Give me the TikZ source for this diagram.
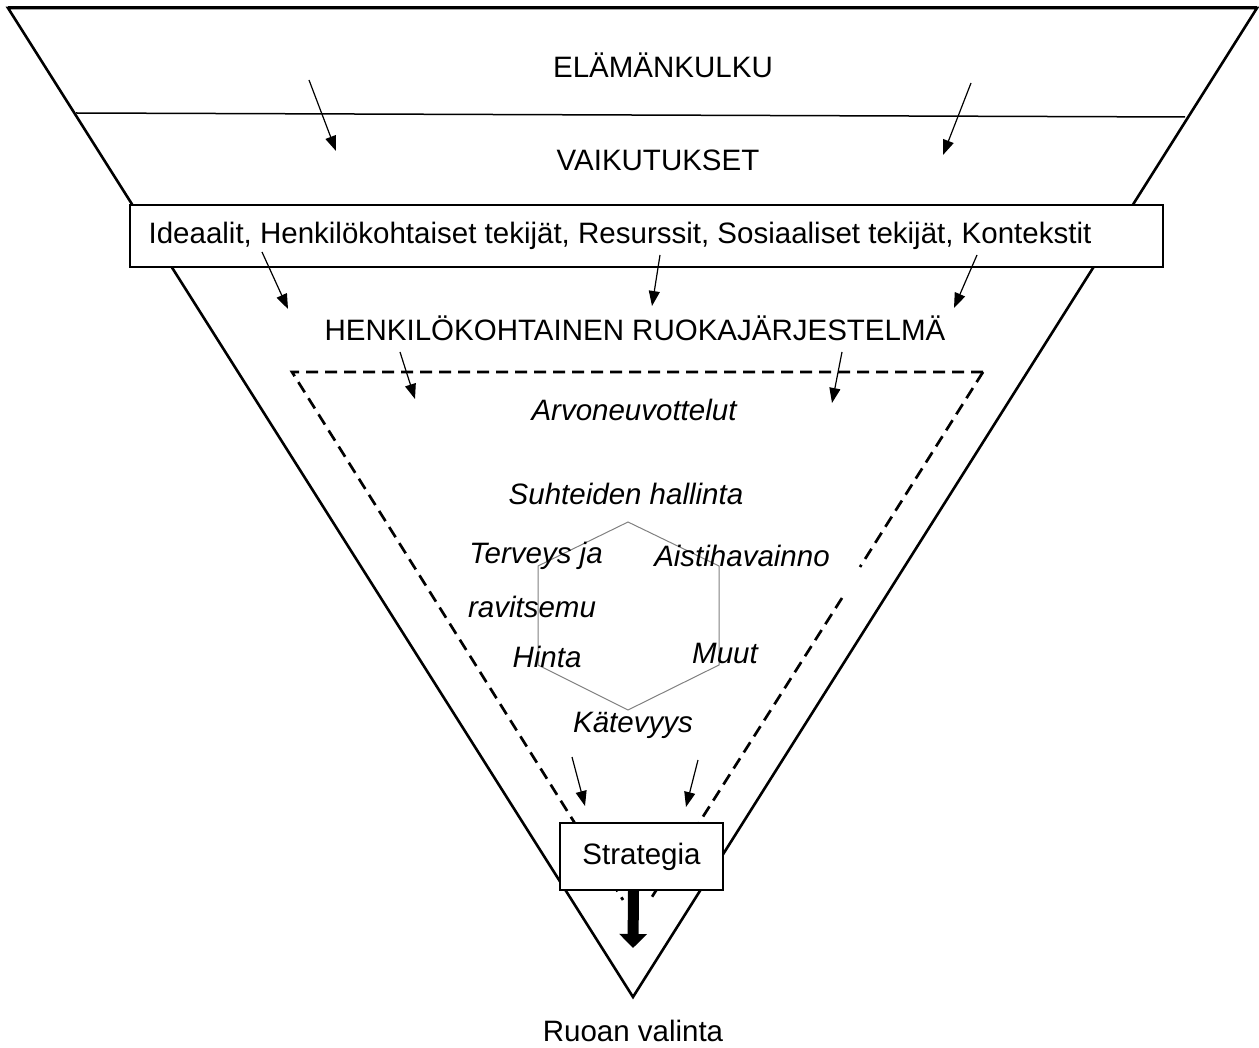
\documentclass[tikz,border=0pt]{standalone}
\usepackage{fontspec}
\setmainfont{Liberation Sans}
\usetikzlibrary{arrows.meta}
\begin{document}
\begin{tikzpicture}[x=1pt,y=-1pt,
  every node/.style={inner sep=0pt,font=\fontsize{29.5}{35}\selectfont},
  lbl/.style={anchor=center},
  itl/.style={anchor=center,font=\fontsize{29.5}{35}\selectfont\itshape},
  outer/.style={line width=2.6pt},
  thinarrow/.style={line width=1.2pt,-{Triangle[length=15pt,width=11pt]}},
  dsh/.style={line width=2.7pt,dash pattern=on 12pt off 7pt},
  whitebox/.style={draw,line width=1.6pt,fill=white}]
\useasboundingbox (0,0) rectangle (1259,1048);
% outer funnel
\coordinate (tl) at (8,8);
\coordinate (tr) at (1257,8);
\coordinate (ap) at (633,997);
\draw[outer,line join=miter] (tl) -- (tr) -- (ap) -- cycle;
\draw[line width=3pt] (tl) -- (tr);
\coordinate (hl) at (76,113);
\coordinate (hr) at (1185,117);
\draw[line width=1.5pt] (hl) -- (hr);
% dashed triangle
\coordinate (dl) at (292,372);
\coordinate (dr) at (983,372);
\coordinate (dle) at (623,900);
\coordinate (dre) at (650,900);
\coordinate (dg1) at (860,567);
\coordinate (dg2) at (842,598);
\draw[dsh] (dr) -- (dl) -- (dle);
\draw[dsh] (dr) -- (dg1);
\draw[dsh] (dg2) -- (dre);
% factors box
\node[whitebox,minimum width=1033pt,minimum height=62pt] (fbox) at (646.5,236) {};
\node[lbl] (ftxt) at (620,236) {Ideaalit, Henkilökohtaiset tekijät, Resurssit, Sosiaaliset tekijät, Kontekstit};
% strategia box
\node[whitebox,minimum width=163pt,minimum height=67pt] (strat) at (641.5,856.5) {Strategia};
% texts
\node[lbl] (elama) at (663,65) {ELÄMÄNKULKU};
\node[lbl] (vaik) at (658,160) {VAIKUTUKSET};
\node[lbl] (hrj) at (635,328) {HENKILÖKOHTAINEN RUOKAJÄRJESTELMÄ};
\node[itl] (arvo) at (634,410) {Arvoneuvottelut};
\node[itl] (suht) at (626,494) {Suhteiden hallinta};
% hexagon
\coordinate (h1) at (628,522);
\coordinate (h2) at (719,566);
\coordinate (h3) at (719,665);
\coordinate (h4) at (628,710);
\coordinate (h5) at (538,665);
\coordinate (h6) at (538,566);
\draw[gray,line width=1pt] (h1) -- (h2) -- (h3) -- (h4) -- (h5) -- (h6) -- cycle;
\node[itl] (terv) at (536,556) {Terveys ja};
\node[itl] (ravi) at (532,607) {ravitsemu};
\node[itl] (hinta) at (547,657) {Hinta};
\node[itl] (aisti) at (742,556) {Aistihavainno};
\node[itl] (muut) at (725,653) {Muut};
\node[itl] (kate) at (633,725) {Kätevyys};
\node[lbl] (ruoan) at (633,1031) {Ruoan valinta};
% thin arrows
\coordinate (a1s) at (309,80);   \coordinate (a1e) at (336,151);
\coordinate (a2s) at (971,83);   \coordinate (a2e) at (943,155);
\coordinate (a3s) at (262,252);  \coordinate (a3e) at (288,309);
\coordinate (a4s) at (660,255);  \coordinate (a4e) at (652,306);
\coordinate (a5s) at (977,255);  \coordinate (a5e) at (954,308);
\coordinate (a6s) at (400,352);  \coordinate (a6e) at (415,399);
\coordinate (a7s) at (842,352);  \coordinate (a7e) at (832,403);
\coordinate (a8s) at (572,757);  \coordinate (a8e) at (585,806);
\coordinate (a9s) at (698,760);  \coordinate (a9e) at (686,807);
\foreach \i in {1,...,9} {\draw[thinarrow] (a\i s) -- (a\i e);}
% thick arrow
\coordinate (te) at (633,948);
\draw[line width=11pt,-{Triangle[length=14pt,width=27pt]}] (strat.south) ++(-8,0) coordinate (ts) (ts) -- (te);
\end{tikzpicture}
\end{document}
